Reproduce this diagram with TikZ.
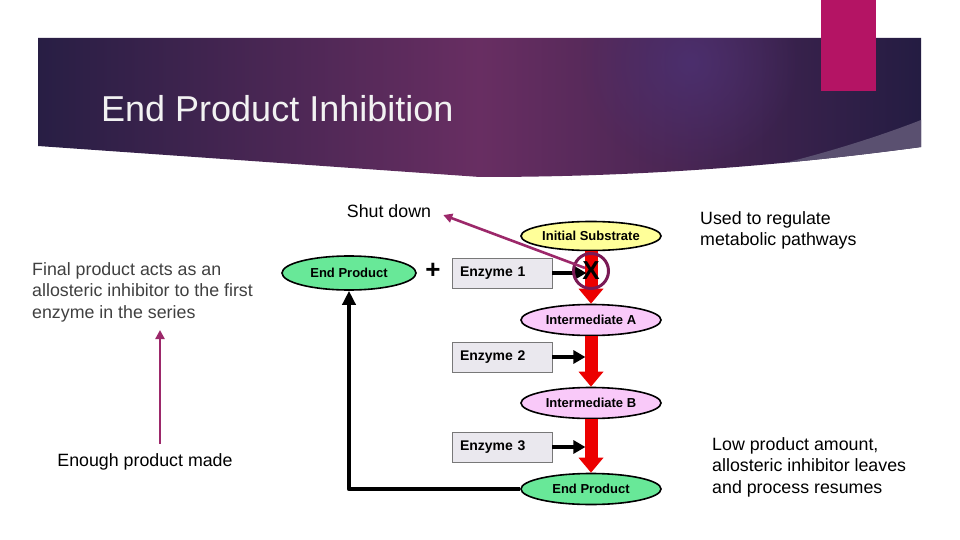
\documentclass[tikz,border=0pt]{standalone}
\usepackage{fontspec}
\setmainfont{Liberation Sans}
\usetikzlibrary{shapes.geometric,arrows.meta,calc,fadings}
\definecolor{bnL}{RGB}{40,30,68}
\definecolor{bnM}{RGB}{104,46,98}
\definecolor{bnR}{RGB}{36,28,66}
\definecolor{glowc}{RGB}{76,48,112}
\definecolor{swoosh}{RGB}{90,80,112}
\definecolor{pinkbar}{RGB}{180,20,100}
\definecolor{titlec}{RGB}{242,242,242}
\definecolor{yel}{RGB}{255,255,153}
\definecolor{pnk}{RGB}{249,201,249}
\definecolor{grn}{RGB}{104,232,152}
\definecolor{enzg}{RGB}{234,232,238}
\definecolor{enzb}{RGB}{120,120,120}
\definecolor{redc}{RGB}{236,0,0}
\definecolor{inhc}{RGB}{122,26,85}
\definecolor{purl}{RGB}{156,40,106}
\definecolor{greyt}{RGB}{64,64,64}
\tikzfading[name=softglow, inner color=transparent!0, outer color=transparent!100]
\tikzset{
  ell/.style={ellipse, draw=black, line width=1.6pt, inner sep=0pt,
    minimum width=140pt, minimum height=31pt,
    font=\bfseries\fontsize{13}{13}\selectfont},
  enz/.style={rectangle, draw=enzb, line width=0.8pt, fill=enzg,
    minimum width=100pt, minimum height=30pt, text width=84pt, align=left,
    inner xsep=8pt, inner ysep=0pt, font=\bfseries\fontsize{14}{14}\selectfont},
  redarr/.style={draw=redc, line width=13pt, -{Triangle[width=24pt,length=15pt]}},
  blkarr/.style={draw=black, line width=4pt, -{Triangle[width=13pt,length=12pt]}},
  fbline/.style={draw=black, line width=4.5pt, line join=round, -{Triangle[width=13pt,length=14pt]}},
  parr/.style={draw=purl, line width=2.6pt, -{Triangle[width=9pt,length=9pt]}},
  body/.style={inner sep=0pt, font=\fontsize{17.8}{21.8}\selectfont, align=left},
}
\begin{document}
\begin{tikzpicture}[x=1pt,y=-1pt]
\useasboundingbox (0,0) rectangle (960,540);
\fill[white] (0,0) rectangle (960,540);
% banner
\begin{scope}
\clip (38,38) -- (921,38) -- (921,147) .. controls (780,166) and (640,177) .. (480,177) -- (38,146) -- cycle;
\shade[left color=bnL, right color=bnR, middle color=bnM] (38,38) rectangle (921,180);
\fill[glowc, path fading=softglow, opacity=0.9] (690,62) circle (110);
\fill[swoosh] (705,180) .. controls (790,165) and (870,140) .. (921,120) -- (921,180) -- cycle;
\end{scope}
\fill[pinkbar] (821,0) rectangle (876,91);
\node[anchor=base west, inner sep=0pt, text=titlec, font=\fontsize{36}{40}\selectfont] (title) at (101,122) {End Product Inhibition};

% pathway nodes
\node[ell, fill=yel, minimum width=140pt, minimum height=29pt] (is) at (591,236) {Initial Substrate};
\node[ell, fill=pnk] (ia) at (591,320) {Intermediate A};
\node[ell, fill=pnk] (ib) at (591,403) {Intermediate B};
\node[ell, fill=grn] (ep) at (591,489) {End Product};
\node[ell, fill=grn, minimum width=134pt, minimum height=34pt] (epl) at (349,273) {End Product};
\node[inner sep=0pt, font=\bfseries\fontsize{26}{26}\selectfont] (plus) at (433,271) {+};
\node[enz] (e1) at (502,273) {Enzyme 1};
\node[enz] (e2) at (502,357) {Enzyme 2};
\node[enz] (e3) at (502,447) {Enzyme 3};

% red arrows
\draw[redarr] (is.south) -- (ia.north);
\draw[redarr] (ia.south) -- (ib.north);
\draw[redarr] (ib.south) -- (ep.north);

% enzyme arrows
\draw[blkarr] (e1.east) -- ++(34,0);
\draw[blkarr] (e2.east) -- ++(33,0);
\draw[blkarr] (e3.east) -- ++(33,0);

% feedback
\draw[fbline] (ep.west) -| (epl.south);

% inhibitor
\node[circle, draw=inhc, line width=3pt, minimum size=35pt, inner sep=0pt] (inh) at (591,271) {};
\node[inner sep=0pt, font=\bfseries\fontsize{26}{26}\selectfont] (ix) at (591,271) {X};

% labels
\node[body] (sd) at (389,211) {Shut down};
\draw[parr] ([xshift=-6pt,yshift=3pt]inh.center) -- ([xshift=12pt,yshift=-4pt]sd.east);

\node[body, anchor=north west, text=greyt] (final) at (32,262) {Final product acts as an\\allosteric inhibitor to the first\\enzyme in the series};
\node[body] (enough) at (145,462) {Enough product made};
\draw[parr] ([xshift=15pt,yshift=10pt]enough.north) -- (160,330);

\node[body, anchor=north west] (used) at (700,211) {Used to regulate\\metabolic pathways};
\node[body, anchor=north west] (low) at (712,437) {Low product amount,\\allosteric inhibitor leaves\\and process resumes};
\end{tikzpicture}
\end{document}
